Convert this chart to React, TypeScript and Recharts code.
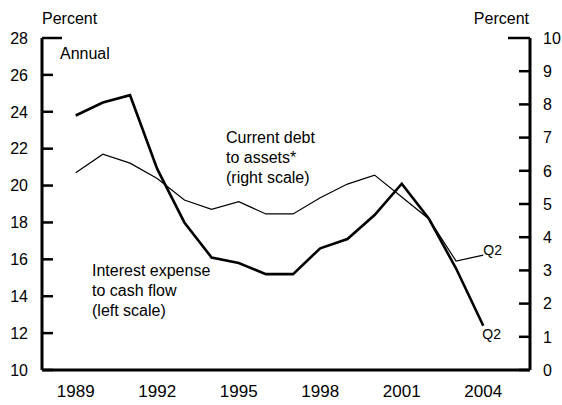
import { LineChart, Line, XAxis, YAxis } from 'recharts';

// annual data, last point is 2004 Q2
const years = [1989, 1990, 1991, 1992, 1993, 1994, 1995, 1996, 1997, 1998, 1999, 2000, 2001, 2002, 2003, 2004];
const interestToCashFlow = [23.8, 24.5, 24.9, 20.9, 18.0, 16.1, 15.8, 15.2, 15.2, 16.6, 17.1, 18.4, 20.1, 18.2, 15.5, 12.4];
const debtToAssets = [5.94, 6.5, 6.23, 5.77, 5.12, 4.84, 5.07, 4.7, 4.7, 5.19, 5.6, 5.87, 5.21, 4.55, 3.28, 3.46];

const yearLabels = [1989, 1992, 1995, 1998, 2001, 2004];
const leftTicks = [10, 12, 14, 16, 18, 20, 22, 24, 26, 28];
const rightTicks = [0, 1, 2, 3, 4, 5, 6, 7, 8, 9, 10];

const FONT = '"Liberation Sans", Arial, Helvetica, sans-serif';
const X_DOMAIN = [1987.76, 2005.72];

const data = years.map((year, i) => ({
  year,
  interest: interestToCashFlow[i],
  debt: debtToAssets[i],
}));

// tick marks sit between years, labels at the year centres
const yearBoundaries = [...years.map((y) => y - 0.5), years[years.length - 1] + 0.5];

function XTick({ x, y, payload }: any) {
  return (
    <text x={x} y={y + 27} textAnchor="middle" fontSize={17} fontFamily={FONT} fill="#000">
      {payload.value}
    </text>
  );
}

function LeftTick({ x, y, payload }: any) {
  const len = payload.value === 28 ? 20 : 11;
  return (
    <g>
      <path d={`M${x},${y}H${x + len}`} stroke="#000" strokeWidth={2.5} />
      <text x={x - 14} y={y} dy="0.36em" textAnchor="end" fontSize={16} fontFamily={FONT} fill="#000">
        {payload.value}
      </text>
    </g>
  );
}

function RightTick({ x, y, payload }: any) {
  const len = payload.value === 10 ? 22 : 11;
  return (
    <g>
      <path d={`M${x},${y}H${x - len}`} stroke="#000" strokeWidth={2.5} />
      <text x={x + 13} y={y} dy="0.36em" textAnchor="start" fontSize={16} fontFamily={FONT} fill="#000">
        {payload.value}
      </text>
    </g>
  );
}

const lastIndex = years.length - 1;

function ThinEndLabel({ x, y, index }: any) {
  if (index !== lastIndex) return null;
  return (
    <text x={x} y={y} fontSize={14} fontFamily={FONT} fill="#000">
      Q2
    </text>
  );
}

function ThickEndLabel({ x, y, index }: any) {
  if (index !== lastIndex) return null;
  return (
    <text x={x - 1} y={y + 13} fontSize={14} fontFamily={FONT} fill="#000">
      Q2
    </text>
  );
}

const axisLine = { stroke: '#000', strokeWidth: 3 };
const textStyle = { fontSize: 16, fontFamily: FONT, fill: '#000' };

export default function App() {
  return (
    <div style={{ position: 'absolute', left: 0, top: 0 }}>
      <LineChart width={562} height={405} data={data} margin={{ top: 38, right: 0, bottom: 0, left: 0 }}>
        {/* inward tick marks between the years, drawn by a mirrored axis with no labels */}
        <XAxis
          xAxisId="marks"
          dataKey="year"
          type="number"
          domain={X_DOMAIN}
          ticks={yearBoundaries}
          interval={0}
          mirror
          height={0}
          tickSize={11}
          tickLine={{ stroke: '#000', strokeWidth: 2.5 }}
          tickFormatter={() => ''}
          axisLine={false}
        />
        <XAxis
          dataKey="year"
          type="number"
          domain={X_DOMAIN}
          ticks={yearLabels}
          interval={0}
          tickSize={0}
          tickMargin={0}
          axisLine={axisLine}
          height={35}
          tick={<XTick />}
        />
        <YAxis
          yAxisId="left"
          domain={[10, 28]}
          ticks={leftTicks}
          width={42}
          tickSize={0}
          tickMargin={0}
          axisLine={axisLine}
          tick={<LeftTick />}
        />
        <YAxis
          yAxisId="right"
          orientation="right"
          domain={[0, 10]}
          ticks={rightTicks}
          width={32}
          tickSize={0}
          tickMargin={0}
          axisLine={axisLine}
          tick={<RightTick />}
        />
        <Line
          yAxisId="right"
          type="linear"
          dataKey="debt"
          stroke="#000"
          strokeWidth={1.2}
          dot={false}
          isAnimationActive={false}
          label={<ThinEndLabel />}
        />
        <Line
          yAxisId="left"
          type="linear"
          dataKey="interest"
          stroke="#000"
          strokeWidth={2.6}
          dot={false}
          isAnimationActive={false}
          label={<ThickEndLabel />}
        />
        <text x={42} y={24} style={textStyle}>Percent</text>
        <text x={529} y={24} textAnchor="end" style={textStyle}>Percent</text>
        <text x={60} y={59} style={textStyle}>Annual</text>
        <text x={226} y={143} style={textStyle}>Current debt</text>
        <text x={226} y={163} style={textStyle}>to assets*</text>
        <text x={226} y={183} style={textStyle}>(right scale)</text>
        <text x={92} y={276} style={textStyle}>Interest expense</text>
        <text x={92} y={296} style={textStyle}>to cash flow</text>
        <text x={92} y={316} style={textStyle}>(left scale)</text>
      </LineChart>
    </div>
  );
}
